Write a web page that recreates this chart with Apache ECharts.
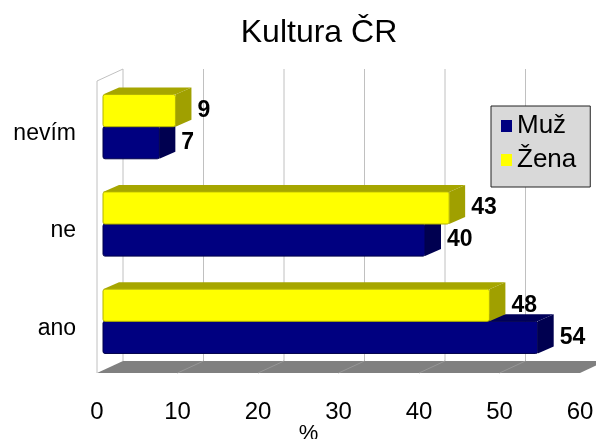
<!DOCTYPE html>
<html>
<head>
<meta charset="utf-8">
<script src="https://cdn.jsdelivr.net/npm/echarts@6/dist/echarts.min.js"></script>
<style>
  html, body { margin: 0; padding: 0; background: #fff; }
  #chart { width: 596px; height: 439px; }
</style>
</head>
<body>
<div id="chart"></div>
<script>
const categories = ['ano', 'ne', 'nevím'];
const muz = [54, 40, 7];
const zena = [48, 43, 9];
const xTicks = [0, 10, 20, 30, 40, 50, 60];

// 3D look: depth of the whole plot box and of the bars
const DX = 26, DY = -12;
const BOX = 6, BOY = -3, BDX = 16, BDY = -7;
const FONT = '"Liberation Sans", Arial, sans-serif';

const chart = echarts.init(document.getElementById('chart'));

function renderWalls(params, api) {
  const cs = params.coordSys;
  const top = cs.y, bottom = cs.y + cs.height;
  const x0 = api.coord([xTicks[0], 0])[0];
  const xEnd = api.coord([xTicks[xTicks.length - 1], 0])[0];
  const children = [];
  // floor
  children.push({
    type: 'polygon',
    shape: { points: [[x0, bottom], [xEnd, bottom], [xEnd + DX, bottom + DY], [x0 + DX, bottom + DY]] },
    style: { fill: '#808080' }
  });
  xTicks.forEach(function (t, i) {
    const x = api.coord([t, 0])[0];
    // back wall gridline
    children.push({
      type: 'line',
      shape: { x1: x + DX, y1: top + DY, x2: x + DX, y2: bottom + DY },
      style: { stroke: '#c0c0c0', lineWidth: 1 }
    });
    if (i > 0 && i < xTicks.length - 1) {
      children.push({
        type: 'line',
        shape: { x1: x, y1: bottom, x2: x + DX, y2: bottom + DY },
        style: { stroke: '#979797', lineWidth: 1 }
      });
    }
  });
  // left wall
  children.push({
    type: 'polyline',
    shape: { points: [[x0 + DX, top + DY], [x0, top], [x0, bottom]] },
    style: { stroke: '#c0c0c0', lineWidth: 1, fill: null }
  });
  return { type: 'group', children: children };
}

function barRenderer(upper, front, topC, sideC, edge) {
  return function (params, api) {
    const cat = api.value(1);
    const val = api.value(0);
    const base = api.coord([0, cat]);
    const end = api.coord([val, cat]);
    const h = api.size([0, 1])[1] * 0.33;
    const xs = base[0] + BOX, xe = end[0] + BOX;
    const yc = base[1] + BOY;
    const y0 = upper ? yc - h : yc;
    const y1 = y0 + h;
    return {
      type: 'group',
      children: [
        { type: 'polygon', shape: { points: [[xs, y0], [xs + BDX, y0 + BDY], [xe + BDX, y0 + BDY], [xe, y0]] },
          style: { fill: topC } },
        { type: 'polygon', shape: { points: [[xe, y0], [xe + BDX, y0 + BDY], [xe + BDX, y1 + BDY], [xe, y1]] },
          style: { fill: sideC } },
        { type: 'rect', shape: { x: xs, y: y0, width: xe - xs, height: h, r: 2 },
          style: { fill: front, stroke: edge, lineWidth: 1 } },
        { type: 'text', style: { text: String(val), x: xe + BDX + 6, y: (y0 + y1) / 2,
          fill: '#000', font: 'bold 23px ' + FONT, verticalAlign: 'middle', align: 'left' } }
      ]
    };
  };
}

chart.setOption({
  animation: false,
  title: {
    text: 'Kultura ČR',
    left: 314,
    top: 12,
    textAlign: 'center',
    textStyle: { fontFamily: FONT, fontSize: 32, fontWeight: 'normal', color: '#000' }
  },
  legend: {
    data: [
      { name: 'Muž', itemStyle: { color: '#000080' } },
      { name: 'Žena', itemStyle: { color: '#ffff00' } }
    ],
    orient: 'vertical',
    left: 491,
    top: 106,
    icon: 'rect',
    itemWidth: 11,
    itemHeight: 12,
    itemGap: 8,
    padding: [7, 14, 14, 10],
    backgroundColor: '#d9d9d9',
    borderColor: '#222',
    borderWidth: 1,
    borderRadius: 0,
    textStyle: { fontFamily: FONT, fontSize: 26, color: '#000' }
  },
  grid: { left: 97, right: 16, top: 81, bottom: 66, outerBoundsMode: 'none', containLabel: false },
  xAxis: {
    type: 'value',
    min: 0,
    max: 60,
    interval: 10,
    name: '%',
    nameLocation: 'middle',
    nameGap: 50,
    nameMoveOverlap: false,
    nameTextStyle: { fontFamily: FONT, fontSize: 22, color: '#000', padding: [0, 60, 0, 0] },
    axisLine: { show: false },
    axisTick: { show: false },
    splitLine: { show: false },
    axisLabel: { fontFamily: FONT, fontSize: 24, color: '#000', margin: 27 }
  },
  yAxis: {
    type: 'category',
    data: categories,
    axisLine: { show: false },
    axisTick: { show: false },
    axisLabel: { fontFamily: FONT, fontSize: 23, color: '#000', margin: 21, verticalAlign: 'top', lineHeight: 8 }
  },
  series: [
    {
      type: 'custom', name: 'walls', z: 1, silent: true,
      renderItem: renderWalls,
      encode: { x: 0, y: 1 },
      data: [[0, 0]]
    },
    {
      type: 'custom', name: 'Muž', z: 2,
      itemStyle: { color: '#000080' },
      renderItem: barRenderer(false, '#000080', '#00005a', '#000050', '#00004a'),
      encode: { x: 0, y: 1 },
      data: muz.map(function (v, i) { return [v, i]; })
    },
    {
      type: 'custom', name: 'Žena', z: 3,
      itemStyle: { color: '#ffff00' },
      renderItem: barRenderer(true, '#ffff00', '#a6a600', '#a0a000', '#b4b400'),
      encode: { x: 0, y: 1 },
      data: zena.map(function (v, i) { return [v, i]; })
    }
  ]
});
</script>
</body>
</html>
